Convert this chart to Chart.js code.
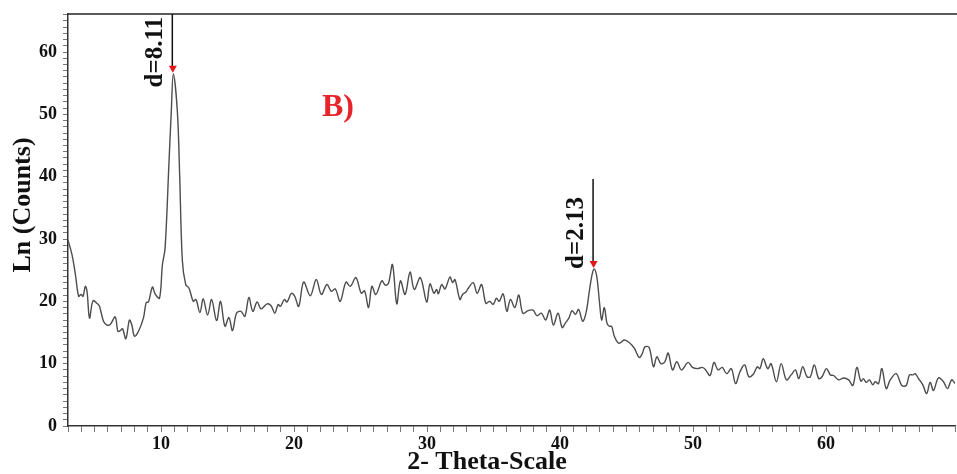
<!DOCTYPE html>
<html>
<head>
    <meta charset="utf-8"/>
    <title>XRD pattern B</title>
    <style>
        html, body { margin: 0; padding: 0; background: #fff; }
        #wrap { width: 957px; height: 474px; position: relative; }
    </style>
    <script src="https://cdn.jsdelivr.net/npm/chart.js@4.4.1/dist/chart.umd.min.js"></script>
</head>
<body>
<div id="wrap"><canvas id="xrd"></canvas></div>
<script>
    // 2-theta positions (degrees) and intensities
    const theta = [
        3.0, 3.3, 3.55, 3.8, 3.98, 4.13, 4.3, 4.43, 4.62, 4.88, 5.22, 5.37, 5.67, 5.93, 6.18, 6.55,
        6.75, 6.93, 7.1, 7.35, 7.62, 7.8, 8.0, 8.3, 8.67, 8.88, 9.05, 9.35, 9.55, 9.88, 10.1, 10.3,
        10.6, 10.77, 10.92, 11.22, 11.4, 11.6, 11.85, 12.1, 12.42, 12.62, 12.92, 13.17, 13.5, 13.8,
        14.17, 14.47, 14.8, 15.1, 15.37, 15.67, 16.0, 16.3, 16.6, 16.9, 17.22, 17.52, 17.97, 18.27,
        18.55, 18.8, 18.97, 19.27, 19.47, 19.8, 20.05, 20.35, 20.72, 21.22, 21.67, 22.05, 22.47,
        22.8, 23.1, 23.47, 23.9, 24.22, 24.65, 25.05, 25.3, 25.6, 25.85, 26.15, 26.6, 26.85, 27.1,
        27.4, 27.72, 28.0, 28.35, 28.72, 29.04, 29.5, 29.97, 30.22, 30.52, 30.72, 30.85, 31.1,
        31.35, 31.72, 31.92, 32.1, 32.47, 32.67, 32.92, 33.1, 33.47, 33.77, 34.1, 34.42, 34.72,
        34.97, 35.22, 35.42, 35.72, 36.0, 36.27, 36.6, 36.9, 37.2, 37.6, 37.97, 38.26, 38.6, 38.92,
        39.22, 39.5, 39.85, 40.16, 40.4, 40.66, 40.9, 41.16, 41.4, 41.7, 41.95, 42.2, 42.4, 42.56,
        42.76, 42.96, 43.13, 43.33, 43.53, 43.7, 43.88, 44.08, 44.38, 44.58, 44.83, 45.2, 45.58,
        45.96, 46.2, 46.38, 46.7, 47.03, 47.28, 47.58, 47.88, 48.13, 48.46, 48.78, 49.13, 49.63,
        49.96, 50.33, 50.7, 50.95, 51.28, 51.58, 51.88, 52.2, 52.53, 52.88, 53.2, 53.53, 53.88,
        54.2, 54.53, 54.83, 55.03, 55.28, 55.62, 55.87, 56.27, 56.63, 57.02, 57.38, 57.7, 57.95,
        58.25, 58.57, 58.82, 59.12, 59.45, 59.7, 60.03, 60.33, 60.57, 60.95, 61.32, 61.7, 62.02,
        62.32, 62.62, 62.82, 63.02, 63.27, 63.52, 63.7, 63.95, 64.2, 64.53, 64.83, 65.28, 65.7,
        66.03, 66.28, 66.53, 66.7, 66.96, 67.28, 67.57, 67.83, 68.08, 68.45, 68.83, 69.13, 69.45, 69.7
    ];
    const counts = [
        29.8, 27.5, 24.4, 20.8, 21.1, 20.8, 22.4, 21.6, 17.3, 20.1, 19.6, 19.2, 16.8, 16.2, 16.3, 17.5,
        15.2, 15.3, 15.6, 14.0, 17.0, 16.2, 14.4, 15.2, 17.3, 19.8, 19.9, 22.3, 21.2, 20.5, 25.9, 28.5,
        42.6, 50.6, 56.5, 50.6, 40.0, 26.5, 22.7, 22.1, 20.0, 20.3, 18.2, 20.4, 17.8, 20.3,
        16.9, 20.0, 16.0, 17.4, 15.3, 18.1, 18.4, 17.6, 20.6, 18.4, 19.9, 18.8, 19.6, 19.3,
        18.1, 19.5, 19.2, 20.3, 19.9, 21.3, 20.8, 19.2, 23.1, 20.9, 23.5, 21.1, 22.7,
        21.6, 22.0, 20.0, 23.1, 22.4, 23.8, 21.3, 21.7, 19.0, 22.4, 21.1, 23.3, 22.6, 22.9,
        25.9, 19.6, 23.3, 21.1, 24.7, 21.9, 23.8, 19.9, 22.8, 21.3, 21.9, 21.2, 22.7,
        22.0, 23.9, 23.0, 23.5, 20.3, 21.1, 21.5, 22.1, 23.0, 21.3, 22.7, 19.7, 20.0,
        19.5, 20.5, 20.0, 21.2, 18.4, 20.3, 19.0, 21.0, 18.1, 18.5, 18.6, 17.7, 18.1, 17.0,
        18.6, 16.2, 18.1, 15.8, 16.5, 17.3, 18.5, 17.9, 18.7, 16.8, 18.1, 21.6, 24.2, 25.2,
        24.0, 20.0, 17.0, 19.0, 16.5, 16.0, 16.0, 14.4, 13.3, 13.4, 13.8, 13.4, 12.5,
        11.0, 11.7, 12.7, 12.6, 9.5, 11.1, 10.0, 10.3, 11.7, 9.0, 10.3, 9.0, 10.2,
        9.4, 9.2, 9.4, 9.0, 8.1, 10.2, 9.0, 9.4, 8.4, 9.2, 6.8, 8.7, 9.8,
        7.9, 8.3, 9.5, 9.2, 10.8, 9.2, 10.0, 7.1, 10.0, 7.4, 8.2, 9.0, 7.6,
        9.5, 7.9, 7.9, 9.8, 7.6, 7.9, 9.2, 8.2, 8.1, 7.4, 7.7, 7.4, 6.5,
        9.4, 7.2, 7.6, 7.0, 7.4, 6.6, 7.1, 6.8, 9.2, 6.0, 7.4, 8.4, 6.5,
        6.5, 8.2, 8.2, 8.4, 7.6, 6.6, 5.2, 7.0, 5.7, 7.7, 7.1, 6.0, 7.4, 6.8
    ];

    // labelled reflections
    const peakTheta = [10.92, 42.56];
    const peakCounts = [56.5, 25.2];
    const peakLabels = ['d=8.11', 'd=2.13'];

    // axis ranges
    const xMin = 3, xMax = 69.7;
    const yMin = 0, yMax = 66.1;

    const serif = '"Liberation Serif", "Times New Roman", serif';

    // marks the d-spacing peaks, frames the plot and writes the titles
    const decorations = {
        id: 'decorations',
        afterDraw(chart) {
            const { ctx, chartArea, scales } = chart;
            const x = scales.x, y = scales.y;
            ctx.save();

            // top frame line
            ctx.strokeStyle = '#222';
            ctx.lineWidth = 1.5;
            ctx.beginPath();
            ctx.moveTo(chartArea.left, chartArea.top);
            ctx.lineTo(chart.width, chartArea.top);
            ctx.stroke();

            ctx.font = 'bold 25px ' + serif;
            peakTheta.forEach((t, i) => {
                const px = x.getPixelForValue(t);
                const py = y.getPixelForValue(peakCounts[i]);
                const stemTop = Math.max(chartArea.top, py - 90);

                ctx.strokeStyle = '#111';
                ctx.lineWidth = 1.5;
                ctx.beginPath();
                ctx.moveTo(px - 1, stemTop);
                ctx.lineTo(px - 1, py - 5);
                ctx.stroke();

                ctx.fillStyle = '#e8141c';
                ctx.beginPath();
                ctx.moveTo(px - 4.5, py - 8);
                ctx.lineTo(px + 3.5, py - 8);
                ctx.lineTo(px - 0.5, py - 1);
                ctx.closePath();
                ctx.fill();

                const w = ctx.measureText(peakLabels[i]).width;
                const base = Math.max(py, chartArea.top + 3 + w);
                ctx.save();
                ctx.translate(px - 11, base);
                ctx.rotate(-Math.PI / 2);
                ctx.fillStyle = '#111';
                ctx.textAlign = 'left';
                ctx.textBaseline = 'alphabetic';
                ctx.fillText(peakLabels[i], 0, 0);
                ctx.restore();
            });

            // panel letter
            ctx.fillStyle = '#e8242b';
            ctx.font = 'bold 32px ' + serif;
            ctx.textAlign = 'center';
            ctx.textBaseline = 'middle';
            ctx.fillText('B)', x.getPixelForValue(23.3), y.getPixelForValue(51.1));

            // axis titles
            ctx.fillStyle = '#111';
            ctx.font = 'bold 26px ' + serif;
            ctx.fillText('2- Theta-Scale', 487, 462);
            ctx.save();
            ctx.translate(23, 205);
            ctx.rotate(-Math.PI / 2);
            ctx.fillText('Ln (Counts)', 0, 0);
            ctx.restore();

            ctx.restore();
        }
    };

    const tickFont = { family: serif, size: 18, weight: 'bold' };

    new Chart(document.getElementById('xrd'), {
        type: 'line',
        data: {
            datasets: [{
                data: theta.map((t, i) => ({ x: t, y: counts[i] })),
                borderColor: '#4d4d4d',
                borderWidth: 1.4,
                pointRadius: 0,
                tension: 0.35,
                fill: false
            }]
        },
        options: {
            responsive: true,
            maintainAspectRatio: false,
            animation: false,
            layout: { padding: { top: 14, right: -2, left: 0, bottom: 0 } },
            plugins: {
                legend: { display: false },
                tooltip: { enabled: false }
            },
            scales: {
                x: {
                    type: 'linear',
                    min: xMin,
                    max: xMax,
                    ticks: {
                        stepSize: 1,
                        autoSkip: false,
                        maxRotation: 0,
                        padding: 2,
                        color: '#111',
                        font: tickFont,
                        callback: v => (v % 10 === 0 ? String(v) : '')
                    },
                    grid: { drawOnChartArea: false, tickLength: 6, tickColor: '#777' },
                    border: { color: '#333', width: 1.5 },
                    afterFit: s => { s.height = 48; }
                },
                y: {
                    min: yMin,
                    max: yMax,
                    ticks: {
                        stepSize: 1,
                        autoSkip: false,
                        padding: 6,
                        color: '#111',
                        font: tickFont,
                        callback: v => (v % 10 === 0 ? String(v) : '')
                    },
                    grid: { drawOnChartArea: false, tickLength: 5, tickColor: '#777' },
                    border: { color: '#333', width: 1.5 },
                    afterFit: s => { s.width = 68; s.paddingTop = 0; s.paddingBottom = 0; }
                }
            }
        },
        plugins: [decorations]
    });
</script>
</body>
</html>
